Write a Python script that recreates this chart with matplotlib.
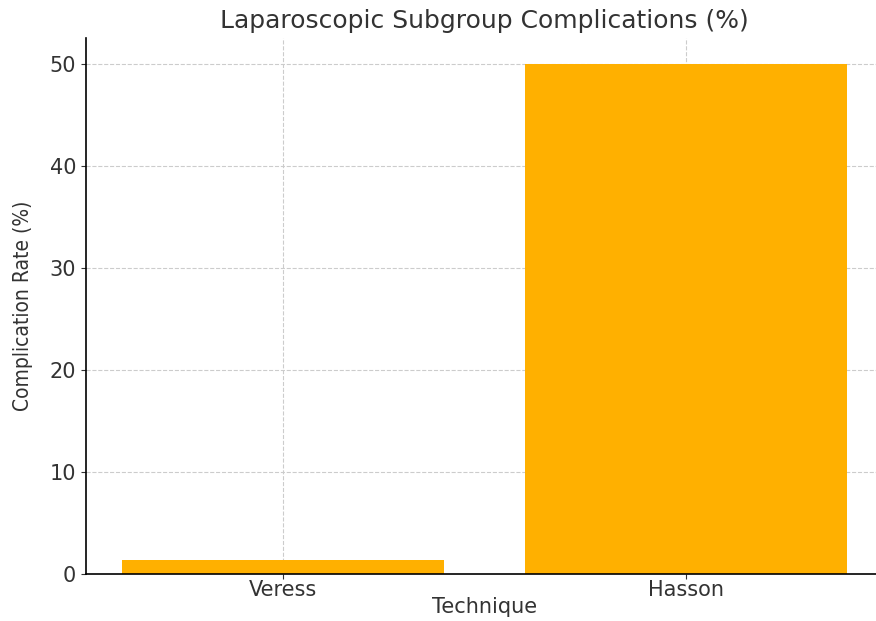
import matplotlib.pyplot as plt

techniques = ["Veress", "Hasson"]
complication_rates = [1.4, 50.0]

fig = plt.figure(figsize=(8.76, 6.21), dpi=100)
ax = fig.add_axes([86 / 876, 1 - 574 / 621, 797 / 876, 536 / 621])

ax.bar(techniques, complication_rates, color="#FFB000", width=0.8, zorder=2)

ax.set_title("Laparoscopic Subgroup Complications (%)", fontsize=18, color="#333333", pad=7)
ax.set_xlabel("Technique", fontsize=15, color="#333333", labelpad=-2)
ax.set_ylabel("Complication Rate (%)", fontsize=15, color="#333333", fontstretch="condensed", labelpad=12)

ax.tick_params(axis="both", labelsize=15, colors="#333333")
ax.tick_params(axis="x", pad=0.5)
ax.set_yticks([0, 10, 20, 30, 40, 50])
ax.grid(True, linestyle="--", color="#cccccc", linewidth=0.8, zorder=0)
ax.spines["top"].set_visible(False)
ax.spines["right"].set_visible(False)
ax.spines["left"].set_linewidth(1.2)
ax.spines["bottom"].set_linewidth(1.2)

fig.savefig("out.png", dpi=100)
